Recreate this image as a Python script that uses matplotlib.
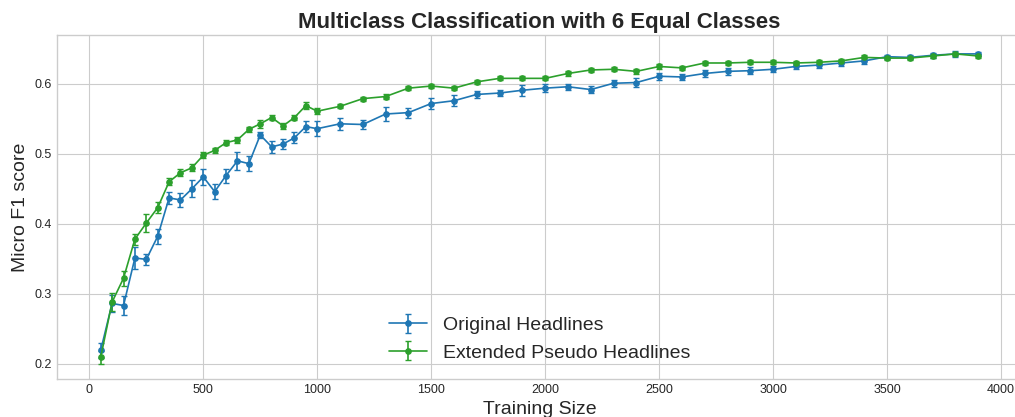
import matplotlib
matplotlib.use("Agg")
import matplotlib.pyplot as plt

plt.style.use("seaborn-v0_8-whitegrid")
plt.rcParams["font.family"] = ["Liberation Sans Narrow", "Liberation Sans", "DejaVu Sans"]

train_size = list(range(50, 1001, 50)) + list(range(1100, 3901, 100))

orig_f1 = [0.219, 0.286, 0.283, 0.351, 0.349, 0.382, 0.437, 0.434, 0.450, 0.467,
           0.446, 0.469, 0.490, 0.486, 0.527, 0.510, 0.514, 0.523, 0.539, 0.536,
           0.543, 0.542, 0.557, 0.559, 0.572, 0.576, 0.585, 0.587, 0.591, 0.594,
           0.596, 0.592, 0.601, 0.602, 0.611, 0.610, 0.615, 0.618, 0.619, 0.621,
           0.625, 0.627, 0.630, 0.633, 0.639, 0.638, 0.641, 0.643, 0.643]
orig_err = [0.011, 0.012, 0.013, 0.016, 0.008, 0.011, 0.009, 0.010, 0.012, 0.011,
            0.011, 0.010, 0.013, 0.011, 0.004, 0.009, 0.007, 0.008, 0.008, 0.011,
            0.009, 0.007, 0.010, 0.007, 0.008, 0.008, 0.005, 0.004, 0.008, 0.006,
            0.004, 0.005, 0.005, 0.006, 0.005, 0.004, 0.005, 0.005, 0.005, 0.004,
            0.004, 0.004, 0.004, 0.004, 0.003, 0.003, 0.004, 0.004, 0.003]

ext_f1 = [0.209, 0.288, 0.322, 0.378, 0.401, 0.423, 0.460, 0.473, 0.480, 0.498,
          0.505, 0.516, 0.520, 0.535, 0.543, 0.552, 0.540, 0.552, 0.569, 0.561,
          0.568, 0.579, 0.582, 0.594, 0.597, 0.594, 0.603, 0.608, 0.608, 0.608,
          0.615, 0.620, 0.621, 0.618, 0.625, 0.623, 0.630, 0.630, 0.631, 0.631,
          0.630, 0.631, 0.633, 0.638, 0.637, 0.637, 0.640, 0.643, 0.640]
ext_err = [0.009, 0.013, 0.011, 0.008, 0.013, 0.008, 0.005, 0.005, 0.005, 0.004,
           0.004, 0.004, 0.004, 0.004, 0.006, 0.004, 0.004, 0.003, 0.005, 0.004,
           0.003, 0.003, 0.003, 0.003, 0.003, 0.003, 0.003, 0.003, 0.003, 0.003,
           0.003, 0.003, 0.003, 0.004, 0.003, 0.003, 0.003, 0.003, 0.003, 0.003,
           0.003, 0.003, 0.003, 0.003, 0.003, 0.003, 0.003, 0.003, 0.003]

fig = plt.figure(figsize=(10.15, 4.17), dpi=100)
ax = fig.add_axes([0.056, 0.091, 0.951, 0.825])

ax.errorbar(train_size, orig_f1, yerr=orig_err, color="#1f77b4", marker="o",
            markersize=3.8, linewidth=1.2, capsize=2.5, elinewidth=1.2,
            label="Original Headlines")
ax.errorbar(train_size, ext_f1, yerr=ext_err, color="#2ca02c", marker="o",
            markersize=3.8, linewidth=1.2, capsize=2.5, elinewidth=1.2,
            label="Extended Pseudo Headlines")

ax.set_xlim(-142.5, 4092.5)
ax.set_ylim(0.1778, 0.670)
ax.set_xticks(range(0, 4001, 500))
ax.set_yticks([0.2, 0.3, 0.4, 0.5, 0.6])
ax.tick_params(labelsize=9)

ax.set_title("Multiclass Classification with 6 Equal Classes", fontsize=16,
             fontweight="bold", pad=5)
ax.set_xlabel("Training Size", fontsize=14)
ax.set_ylabel("Micro F1 score", fontsize=14)
ax.legend(loc="lower center", fontsize=14, frameon=False)

fig.savefig("out.png", dpi=100)
